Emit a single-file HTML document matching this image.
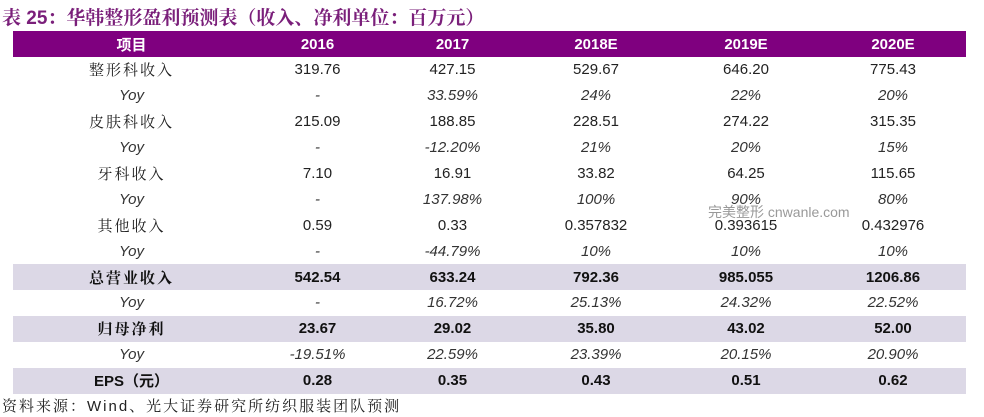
<!DOCTYPE html>
<html><head><meta charset="utf-8"><style>
body{margin:0;width:984px;height:417px;background:#fff;position:relative;overflow:hidden;font-family:"Liberation Sans","Noto Sans CJK SC",sans-serif;}
#title{position:absolute;left:2px;top:3px;font-size:19px;font-weight:bold;color:#7a1f7a;font-family:"Liberation Sans","Noto Serif CJK SC",serif;letter-spacing:0px;white-space:nowrap}
table{position:absolute;left:13px;top:31px;width:953px;border-collapse:collapse;table-layout:fixed}
td{padding:0;text-align:center;font-size:15px;color:#222;white-space:nowrap;height:25.9px}
tr.h td{background:#7f007f;color:#fff;font-weight:bold;height:26px}
tr.s td{background:#dcd8e6;font-weight:bold;color:#111}
tr.y td{font-style:italic;color:#333}
td.l{font-family:"Liberation Sans","Noto Serif CJK SC",serif;letter-spacing:2px}
#src{position:absolute;left:2px;top:395px;font-size:15px;color:#222;font-family:"Liberation Sans","Noto Serif CJK SC",serif;white-space:nowrap;letter-spacing:2px}
#wm{position:absolute;left:708px;top:202px;font-size:14px;color:#999;white-space:nowrap}
</style></head><body>
<div id="title">表 25：华韩整形盈利预测表（收入、净利单位：百万元）</div>
<table>
<colgroup><col style="width:237px"><col style="width:135px"><col style="width:135px"><col style="width:152px"><col style="width:148px"><col style="width:146px"></colgroup>
<tr class="h"><td>项目</td><td>2016</td><td>2017</td><td>2018E</td><td>2019E</td><td>2020E</td></tr>
<tr><td class="l">整形科收入</td><td>319.76</td><td>427.15</td><td>529.67</td><td>646.20</td><td>775.43</td></tr>
<tr class="y"><td>Yoy</td><td>-</td><td>33.59%</td><td>24%</td><td>22%</td><td>20%</td></tr>
<tr><td class="l">皮肤科收入</td><td>215.09</td><td>188.85</td><td>228.51</td><td>274.22</td><td>315.35</td></tr>
<tr class="y"><td>Yoy</td><td>-</td><td>-12.20%</td><td>21%</td><td>20%</td><td>15%</td></tr>
<tr><td class="l">牙科收入</td><td>7.10</td><td>16.91</td><td>33.82</td><td>64.25</td><td>115.65</td></tr>
<tr class="y"><td>Yoy</td><td>-</td><td>137.98%</td><td>100%</td><td>90%</td><td>80%</td></tr>
<tr><td class="l">其他收入</td><td>0.59</td><td>0.33</td><td>0.357832</td><td>0.393615</td><td>0.432976</td></tr>
<tr class="y"><td>Yoy</td><td>-</td><td>-44.79%</td><td>10%</td><td>10%</td><td>10%</td></tr>
<tr class="s"><td class="l">总营业收入</td><td>542.54</td><td>633.24</td><td>792.36</td><td>985.055</td><td>1206.86</td></tr>
<tr class="y"><td>Yoy</td><td>-</td><td>16.72%</td><td>25.13%</td><td>24.32%</td><td>22.52%</td></tr>
<tr class="s"><td class="l">归母净利</td><td>23.67</td><td>29.02</td><td>35.80</td><td>43.02</td><td>52.00</td></tr>
<tr class="y"><td>Yoy</td><td>-19.51%</td><td>22.59%</td><td>23.39%</td><td>20.15%</td><td>20.90%</td></tr>
<tr class="s"><td style="height:24px">EPS（元）</td><td>0.28</td><td>0.35</td><td>0.43</td><td>0.51</td><td>0.62</td></tr>
</table>
<div id="wm">完美整形 cnwanle.com</div>
<div id="src">资料来源：Wind、光大证券研究所纺织服装团队预测</div>
</body></html>
